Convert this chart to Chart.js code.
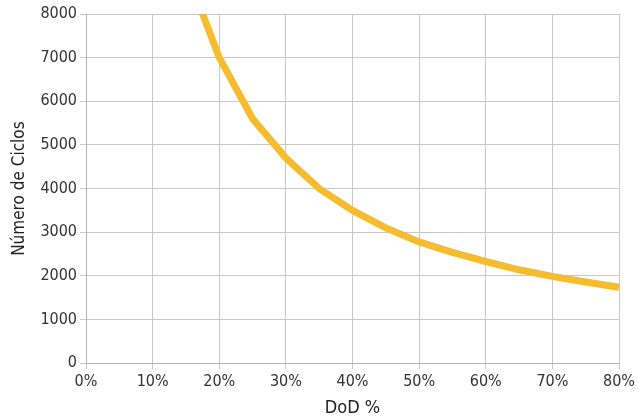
<!DOCTYPE html>
<html>
<head>
<meta charset="utf-8">
<script src="https://cdn.jsdelivr.net/npm/chart.js@4"></script>
<style>
  html, body { margin: 0; padding: 0; background: #fff; }
  #wrap { width: 638px; height: 419px; }
</style>
</head>
<body>
<div id="wrap"><canvas id="ciclosChart"></canvas></div>
<script>
// Ciclos x profundidade de descarga
const dod = [15, 20, 25, 30, 35, 40, 45, 50, 55, 60, 65, 70, 75, 80];
const ciclos = [9000, 7000, 5600, 4700, 4000, 3500, 3100, 2780, 2540, 2330, 2140, 1990, 1860, 1740];
const yTicks = [0, 1000, 2000, 3000, 4000, 5000, 6000, 7000, 8000];

const fonte = "'DejaVu Sans Condensed', 'Liberation Sans Narrow', 'Roboto', sans-serif";
const ctx = document.getElementById('ciclosChart').getContext('2d');

new Chart(ctx, {
  type: 'line',
  data: {
    datasets: [{
      label: 'Ciclos',
      data: dod.map((x, i) => ({ x: x, y: ciclos[i] })),
      borderColor: '#F4BC2E',
      borderWidth: 7,
      pointRadius: 0,
      tension: 0,
      fill: false,
      clip: 0
    }]
  },
  options: {
    responsive: true,
    maintainAspectRatio: false,
    animation: false,
    layout: { padding: { top: 14, right: 16, bottom: 0, left: 9 } },
    plugins: {
      legend: { display: false },
      tooltip: { enabled: false }
    },
    scales: {
      x: {
        type: 'linear',
        min: 0,
        max: 80,
        grid: { color: '#c8c8c8', tickLength: 6 },
        border: { color: '#b0b0b0' },
        ticks: {
          stepSize: 10,
          color: '#333',
          font: { size: 16, family: fonte },
          padding: 3,
          maxRotation: 0,
          callback: v => v + '%'
        },
        title: {
          display: true,
          text: 'DoD %',
          color: '#222',
          font: { size: 18, family: fonte },
          padding: { top: 3, bottom: 0 }
        }
      },
      y: {
        min: 0,
        max: 8000,
        afterBuildTicks: axis => { axis.ticks = yTicks.map(v => ({ value: v })); },
        grid: { color: '#c8c8c8', tickLength: 6 },
        border: { color: '#b0b0b0' },
        ticks: {
          color: '#333',
          font: { size: 16, family: fonte },
          padding: 3,
          callback: v => String(v)
        },
        title: {
          display: true,
          text: 'Número de Ciclos',
          color: '#222',
          font: { size: 17, family: fonte },
          padding: { top: 0, bottom: 8 }
        }
      }
    }
  }
});
</script>
</body>
</html>
